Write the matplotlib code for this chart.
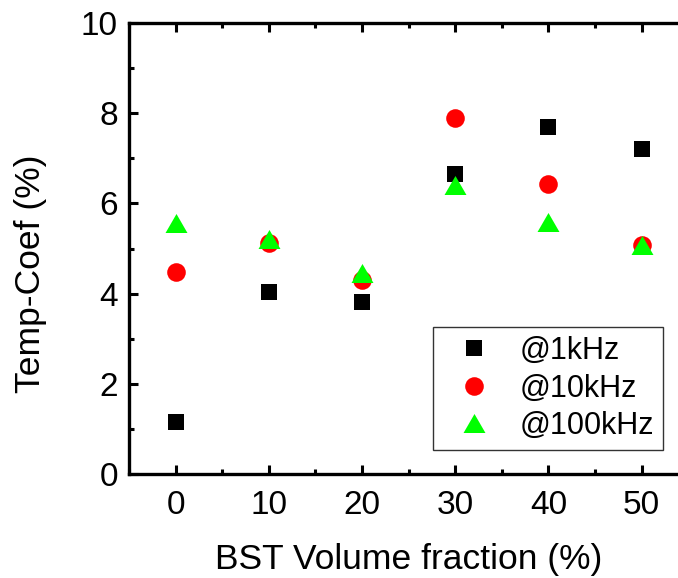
import matplotlib
matplotlib.use("Agg")
import matplotlib.pyplot as plt
from matplotlib.ticker import MultipleLocator

plt.rcParams['font.family'] = ['Liberation Sans', 'DejaVu Sans']

fractions = [0, 10, 20, 30, 40, 50]
coef_1k = [1.15, 4.04, 3.82, 6.64, 7.70, 7.21]
coef_10k = [4.48, 5.12, 4.30, 7.88, 6.42, 5.07]
coef_100k = [5.56, 5.20, 4.46, 6.40, 5.59, 5.08]
labels = ['@1kHz', '@10kHz', '@100kHz']

tri = [(0, 1), (-1.155, -1), (1.155, -1), (0, 1)]

fig = plt.figure(figsize=(6.78, 5.78), dpi=100)
ax = fig.add_axes([129/678, (578-474.3)/578, (688.3-129)/678, (474.3-22.7)/578])

ax.plot(fractions, coef_1k, linestyle='none', marker='s', ms=11.5, color='black', mew=0, label=labels[0])
ax.plot(fractions, coef_10k, linestyle='none', marker='o', ms=13.4, color='#ff0000', mew=0, label=labels[1])
ax.plot(fractions, coef_100k, linestyle='none', marker=tri, ms=15.8, color='#00ff00', mew=0, label=labels[2])

ax.set_xlim(-5, 55)
ax.set_ylim(0, 10)
ax.xaxis.set_major_locator(MultipleLocator(10))
ax.xaxis.set_minor_locator(MultipleLocator(5))
ax.yaxis.set_major_locator(MultipleLocator(2))
ax.yaxis.set_minor_locator(MultipleLocator(1))
ax.tick_params(which='both', direction='in', top=True, right=False, width=2.2, labelsize=24)
ax.tick_params(which='major', length=6.5)
ax.tick_params(which='minor', length=3.5)
ax.tick_params(axis='x', pad=11)
ax.tick_params(axis='y', pad=8)
for s in ['left', 'bottom', 'top']:
    ax.spines[s].set_linewidth(2.4)
ax.spines['right'].set_visible(False)

ax.set_xlabel('BST Volume fraction (%)', fontsize=25.5, labelpad=16)
ax.set_ylabel('Temp-Coef (%)', fontsize=25.5)
ax.yaxis.set_label_coords(-0.1467, 0.4435)

leg = ax.legend(loc='upper left', bbox_to_anchor=((432.7-129)/559.3, (474.3-326.7)/451.6),
                fontsize=22, frameon=True, fancybox=False, edgecolor='black',
                handlelength=2.1, handletextpad=0.45, borderpad=0.3, labelspacing=0.25,
                borderaxespad=0, markerscale=1.0)
leg.get_frame().set_linewidth(1.0)

fig.savefig('out.png', dpi=100)
